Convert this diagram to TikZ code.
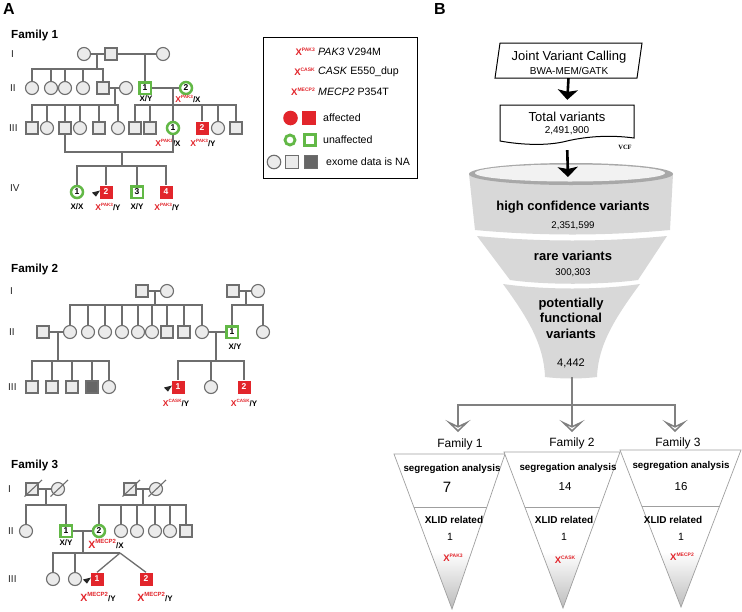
\documentclass[tikz,border=0pt]{standalone}
\usepackage{fontspec}
\setmainfont{Liberation Sans}
\newfontfamily\vcffont{Liberation Serif}
\usetikzlibrary{arrows.meta,calc}
\definecolor{pgray}{HTML}{6E6E6E}
\definecolor{pfill}{HTML}{EBEBEB}
\definecolor{pgreen}{HTML}{62B846}
\definecolor{pred}{HTML}{E2252B}
\definecolor{pdark}{HTML}{666666}
\definecolor{fgray}{HTML}{D8D8D8}
\definecolor{rimgray}{HTML}{A8A8A8}
\definecolor{lgray}{HTML}{808080}
\newcommand{\fsz}[1]{\fontsize{#1}{#1}\selectfont}
\newcommand{\xm}[3]{{\color{pred}\fontsize{#1}{#1}\selectfont X\raisebox{.4em}{\fontsize{#2}{#2}\selectfont #3}}}
\tikzset{
  sq/.style={rectangle,draw=pgray,fill=pfill,line width=1.1pt,minimum size=12pt,inner sep=0pt},
  ci/.style={circle,draw=pgray,fill=pfill,line width=1.1pt,minimum size=13pt,inner sep=0pt},
  usq/.style={rectangle,draw=pgreen,fill=white,line width=2.5pt,minimum size=11.5pt,inner sep=0pt,font=\bfseries\fsz{8.5}},
  uci/.style={circle,draw=pgreen,fill=white,line width=2.5pt,minimum size=12pt,inner sep=0pt,font=\bfseries\fsz{8.5}},
  asq/.style={rectangle,fill=pred,minimum size=13pt,inner sep=0pt,text=white,font=\bfseries\fsz{8.5}},
  dsq/.style={rectangle,draw=pgray,fill=pdark,line width=1.1pt,minimum size=12pt,inner sep=0pt},
  pl/.style={draw=pgray,line width=1.3pt},
  dec/.style={draw=pgray,line width=1.1pt},
  gen/.style={anchor=west,inner sep=0pt,font=\fsz{10},text=black!85},
  ftitle/.style={anchor=west,inner sep=0pt,font=\bfseries\fsz{11.7}},
  lab/.style={inner sep=0pt,font=\bfseries\fsz{8}},
  proband/.style={fill=black!85},
  panel/.style={inner sep=0pt,font=\bfseries\fsz{16}},
  legtxt/.style={anchor=west,inner sep=0pt,font=\fsz{10.6}},
  bigarrow/.style={line width=2.6pt,-{Stealth[length=10pt,width=20pt,inset=2pt]}},
  fb/.style={inner sep=0pt,font=\bfseries\fsz{13}},
  fn/.style={inner sep=0pt,font=\fsz{9.7}},
  gline/.style={draw=lgray,line width=2pt},
  garrow/.style={draw=lgray,line width=1.5pt,-{Stealth[open,fill=white,length=12pt,width=25pt,inset=6pt]}},
  tri/.style={draw=gray!75,line width=0.7pt},
  famb/.style={inner sep=0pt,font=\fsz{12}},
  segb/.style={inner sep=0pt,font=\bfseries\fsz{9.8}},
  xlid/.style={inner sep=0pt,font=\bfseries\fsz{10}},
  cnt/.style={inner sep=0pt,font=\fsz{11.5}},
}
\begin{document}
\begin{tikzpicture}[x=1pt,y=-1pt]
\useasboundingbox (0,0) rectangle (742,611);
\fill[white] (0,0) rectangle (742,611);

\node[panel] (pA) at (9,9) {A};
\node[panel] (pB) at (440,9) {B};

%%%%%%%%%%%%%%%% FAMILY 1
\node[ftitle] (f1t) at (11,35) {Family 1};
\node[gen] (f1g1) at (11,54) {I};
\node[gen] (f1g2) at (10,88) {II};
\node[gen] (f1g3) at (9,128) {III};
\node[gen] (f1g4) at (10,188) {IV};
% gen I
\node[ci] (f1a) at (84,54) {};
\node[sq] (f1b) at (111,54) {};
\node[ci] (f1c) at (163,54) {};
\draw[pl] (f1a) -- (f1b);
\draw[pl] (f1b) -- (f1c);
\coordinate (f1m1) at (97,54);
\coordinate (f1j1) at (97,69);
\coordinate (f1m2) at (145,54);
% gen II
\node[ci] (f1IIa) at (32,88) {};
\node[ci] (f1IIb) at (51,88) {};
\node[ci] (f1IIc) at (65,88) {};
\node[ci] (f1IId) at (83,88) {};
\node[sq] (f1IIe) at (103,88) {};
\node[ci] (f1IIw) at (126,88) {};
\node[usq] (f1II1) at (145,88) {1};
\node[uci] (f1II2) at (186,88) {2};
\draw[pl] (f1m1) -- (f1j1);
\foreach \c in {f1IIa,f1IIb,f1IIc,f1IId,f1IIe} \draw[pl] (f1j1) -| (\c.north);
\draw[pl] (f1m2) -- (f1II1.north);
\draw[pl] (f1IIe) -- (f1IIw);
\draw[pl] (f1II1) -- (f1II2);
\coordinate (f1m3) at (115,88);
\coordinate (f1j3) at (115,105);
\coordinate (f1m4) at (173,88);
\coordinate (f1j4) at (173,105);
\draw[pl] (f1m3) -- (f1j3);
\draw[pl] (f1m4) -- (f1j4);
\node[lab] (f1l1) at (146,99) {X/Y};
\node[lab] (f1l2) at (188,99) {\xm{8.5}{4.6}{PAK3}/X};
% gen III
\node[sq] (f1IIIa) at (32,128) {};
\node[ci] (f1IIIb) at (47,128) {};
\node[sq] (f1IIIc) at (65,128) {};
\node[ci] (f1IIId) at (80,128) {};
\node[sq] (f1IIIe) at (99,128) {};
\node[ci] (f1IIIf) at (118,128) {};
\node[sq] (f1IIIg) at (135,128) {};
\node[sq] (f1IIIh) at (150,128) {};
\node[uci] (f1III1) at (173,128) {1};
\node[asq] (f1III2) at (202,128) {2};
\node[ci] (f1IIIi) at (218,128) {};
\node[sq] (f1IIIj) at (236,128) {};
\foreach \c in {f1IIIa,f1IIIb,f1IIIc,f1IIId,f1IIIe,f1IIIf} \draw[pl] (f1j3) -| (\c.north);
\foreach \c in {f1IIIg,f1IIIh,f1III1,f1III2,f1IIIi,f1IIIj} \draw[pl] (f1j4) -| (\c.north);
\node[lab] (f1l3) at (168,143) {\xm{8.5}{4.6}{PAK3}/X};
\node[lab] (f1l4) at (203,143) {\xm{8.5}{4.6}{PAK3}/Y};
\coordinate (f1u) at (122,152);
\coordinate (f1j5) at (122,166);
\draw[pl] (f1IIIc.south) |- (f1u) -| (f1III1.south);
\draw[pl] (f1u) -- (f1j5);
% gen IV
\node[uci] (f1IV1) at (77,192) {1};
\node[asq] (f1IV2) at (106,192) {2};
\node[usq] (f1IV3) at (137,192) {3};
\node[asq] (f1IV4) at (166,192) {4};
\foreach \c in {f1IV1,f1IV2,f1IV3,f1IV4} \draw[pl] (f1j5) -| (\c.north);
\fill[proband] ($(f1IV2)+(-6,-1.5)$) -- ($(f1IV2)+(-14,0.5)$) -- ($(f1IV2)+(-10,4.5)$) -- cycle;
\node[lab] (f1l5) at (77,207) {X/X};
\node[lab] (f1l6) at (108,207) {\xm{8.5}{4.6}{PAK3}/Y};
\node[lab] (f1l7) at (137,207) {X/Y};
\node[lab] (f1l8) at (167,207) {\xm{8.5}{4.6}{PAK3}/Y};

%%%%%%%%%%%%%%%% FAMILY 2
\node[ftitle] (f2t) at (11,269) {Family 2};
\node[gen] (f2g1) at (10,291) {I};
\node[gen] (f2g2) at (9,332) {II};
\node[gen] (f2g3) at (8,387) {III};
\node[sq] (f2a) at (142,291) {};
\node[ci] (f2b) at (167,291) {};
\node[sq] (f2c) at (233,291) {};
\node[ci] (f2d) at (258,291) {};
\draw[pl] (f2a) -- (f2b);
\draw[pl] (f2c) -- (f2d);
\coordinate (f2m1) at (155,291);
\coordinate (f2j1) at (155,305);
\coordinate (f2m2) at (246,291);
\coordinate (f2j2) at (246,305);
\draw[pl] (f2m1) -- (f2j1);
\draw[pl] (f2m2) -- (f2j2);
\node[sq] (f2IIs) at (43,332) {};
\node[ci] (f2IIa) at (70,332) {};
\node[ci] (f2IIb) at (88,332) {};
\node[ci] (f2IIc) at (105,332) {};
\node[ci] (f2IId) at (122,332) {};
\node[ci] (f2IIe) at (138,332) {};
\node[ci] (f2IIf) at (152,332) {};
\node[sq] (f2IIg) at (167,332) {};
\node[sq] (f2IIh) at (184,332) {};
\node[ci] (f2IIw) at (202,332) {};
\node[usq] (f2II1) at (232,332) {1};
\node[ci] (f2IIi) at (263,332) {};
\foreach \c in {f2IIa,f2IIb,f2IIc,f2IId,f2IIe,f2IIf,f2IIg,f2IIh,f2IIw} \draw[pl] (f2j1) -| (\c.north);
\foreach \c in {f2II1,f2IIi} \draw[pl] (f2j2) -| (\c.north);
\draw[pl] (f2IIs) -- (f2IIa);
\draw[pl] (f2IIw) -- (f2II1);
\coordinate (f2m3) at (58,332);
\coordinate (f2j3) at (58,361);
\coordinate (f2m4) at (216,332);
\coordinate (f2j4) at (216,361);
\draw[pl] (f2m3) -- (f2j3);
\draw[pl] (f2m4) -- (f2j4);
\node[lab] (f2l1) at (235,347) {X/Y};
\node[sq] (f2IIIa) at (32,387) {};
\node[sq] (f2IIIb) at (52,387) {};
\node[sq] (f2IIIc) at (72,387) {};
\node[dsq] (f2IIId) at (92,387) {};
\node[ci] (f2IIIe) at (109,387) {};
\node[asq] (f2III1) at (178,387) {1};
\node[ci] (f2IIIf) at (211,387) {};
\node[asq] (f2III2) at (244,387) {2};
\foreach \c in {f2IIIa,f2IIIb,f2IIIc,f2IIId,f2IIIe} \draw[pl] (f2j3) -| (\c.north);
\foreach \c in {f2III1,f2IIIf,f2III2} \draw[pl] (f2j4) -| (\c.north);
\fill[proband] ($(f2III1)+(-6,-1.5)$) -- ($(f2III1)+(-14,0.5)$) -- ($(f2III1)+(-10,4.5)$) -- cycle;
\node[lab] (f2l2) at (176,403) {\xm{8.5}{4.6}{CASK}/Y};
\node[lab] (f2l3) at (244,403) {\xm{8.5}{4.6}{CASK}/Y};

%%%%%%%%%%%%%%%% FAMILY 3
\node[ftitle] (f3t) at (11,465) {Family 3};
\node[gen] (f3g1) at (8,489) {I};
\node[gen] (f3g2) at (8,531) {II};
\node[gen] (f3g3) at (8,579) {III};
\node[sq] (f3a) at (32,489) {};
\node[ci] (f3b) at (58,489) {};
\node[sq] (f3c) at (130,489) {};
\node[ci] (f3d) at (156,489) {};
\foreach \c in {f3a,f3b,f3c,f3d} \draw[dec] ($(\c)+(-7.5,7.5)$) -- ($(\c)+(10,-9)$);
\draw[pl] (f3a) -- (f3b);
\draw[pl] (f3c) -- (f3d);
\coordinate (f3m1) at (46,489);
\coordinate (f3j1) at (46,505);
\coordinate (f3m2) at (143,489);
\coordinate (f3j2) at (143,505);
\draw[pl] (f3m1) -- (f3j1);
\draw[pl] (f3m2) -- (f3j2);
\node[ci] (f3IIa) at (26,531) {};
\node[usq] (f3II1) at (66,531) {1};
\node[uci] (f3II2) at (99,531) {2};
\node[ci] (f3IIb) at (121,531) {};
\node[ci] (f3IIc) at (137,531) {};
\node[ci] (f3IId) at (155,531) {};
\node[ci] (f3IIe) at (170,531) {};
\node[sq] (f3IIf) at (186,531) {};
\foreach \c in {f3IIa,f3II1} \draw[pl] (f3j1) -| (\c.north);
\foreach \c in {f3II2,f3IIb,f3IIc,f3IId,f3IIe,f3IIf} \draw[pl] (f3j2) -| (\c.north);
\draw[pl] (f3II1) -- (f3II2);
\coordinate (f3m3) at (83,531);
\coordinate (f3j3) at (83,553);
\coordinate (f3tw) at (120,553);
\draw[pl] (f3m3) -- (f3j3);
\node[lab] (f3l1) at (66,543) {X/Y};
\node[lab] (f3l2) at (106,544) {\xm{10.5}{6}{MECP2}/X};
\node[ci] (f3IIIa) at (53,579) {};
\node[ci] (f3IIIb) at (75,579) {};
\node[asq] (f3III1) at (97,579) {1};
\node[asq] (f3III2) at (146,579) {2};
\foreach \c in {f3IIIa,f3IIIb} \draw[pl] (f3j3) -| (\c.north);
\draw[pl] (f3j3) -- (f3tw);
\draw[pl] (f3tw) -- (f3III1.north);
\draw[pl] (f3tw) -- (f3III2.north);
\fill[proband] ($(f3III1)+(-6,-1.5)$) -- ($(f3III1)+(-14,0.5)$) -- ($(f3III1)+(-10,4.5)$) -- cycle;
\node[lab] (f3l3) at (98,597) {\xm{10.5}{6}{MECP2}/Y};
\node[lab] (f3l4) at (155,597) {\xm{10.5}{6}{MECP2}/Y};

%%%%%%%%%%%%%%%% LEGEND
\node[draw,line width=0.8pt,minimum width=154pt,minimum height=141pt,inner sep=0pt] (legend) at (340,107.5) {};
\node[anchor=east,inner sep=0pt,font=\bfseries] (lx1) at (315,52) {\xm{9.5}{5}{PAK3}};
\node[legtxt] (ld1) at (318,52) {\textit{PAK3} V294M};
\node[anchor=east,inner sep=0pt,font=\bfseries] (lx2) at (315,72) {\xm{9.5}{5}{CASK}};
\node[legtxt] (ld2) at (318,72) {\textit{CASK} E550\_dup};
\node[anchor=east,inner sep=0pt,font=\bfseries] (lx3) at (315,92) {\xm{9.5}{5}{MECP2}};
\node[legtxt] (ld3) at (318,92) {\textit{MECP2} P354T};
\node[circle,fill=pred,minimum size=14.6pt,inner sep=0pt] (lac) at (290.5,118) {};
\node[rectangle,fill=pred,minimum size=13.5pt,inner sep=0pt] (las) at (309,118) {};
\node[legtxt] (ld4) at (323,118) {affected};
\node[circle,draw=pgreen,fill=white,line width=2.8pt,minimum size=10pt,inner sep=0pt] (luc) at (290,140) {};
\node[rectangle,draw=pgreen,fill=white,line width=2.8pt,minimum size=11.5pt,inner sep=0pt] (lus) at (310,140) {};
\node[legtxt] (ld5) at (323,140) {unaffected};
\node[ci,minimum size=13.5pt] (lnc) at (274,162) {};
\node[sq,minimum size=12.5pt] (lns) at (292,162) {};
\node[dsq,minimum size=12.5pt] (lnd) at (311,162) {};
\node[legtxt] (ld6) at (326,162) {exome data is NA};

%%%%%%%%%%%%%%%% PANEL B
\node[minimum width=142pt,minimum height=35pt,inner sep=0pt] (jvc) at (568.5,60.5) {};
\draw[line width=1pt] (500,43) -- (642,43) -- (637,78) -- (495,78) -- cycle;
\node[inner sep=0pt,font=\fsz{13}] (jvc1) at (569,57) {Joint Variant Calling};
\node[inner sep=0pt,font=\fsz{10}] (jvc2) at (569,71) {BWA-MEM/GATK};

\node[minimum width=134pt,minimum height=36pt,inner sep=0pt] (tv) at (567,123) {};
\draw[line width=1pt,fill=white] (500,105) -- (634,105) -- (634,138) .. controls (612,135) and (588,136) .. (567,141) .. controls (548,146) and (522,145) .. (500,141) -- cycle;
\node[inner sep=0pt,font=\fsz{13}] (tv1) at (567,117) {Total variants};
\node[inner sep=0pt,font=\fsz{10}] (tv2) at (567,131) {2,491,900};
\node[inner sep=0pt,font=\vcffont\bfseries\fsz{6.5}] (vcf) at (625,147) {VCF};

\draw[bigarrow,shorten >=5pt] (jvc.south) -- (tv.north);

% funnel
\fill[fgray] (469,174) -- (475,230) .. controls (540,236) and (605,236) .. (670,230) -- (673,174) -- cycle;
\fill[fgray] (477,236) .. controls (540,242) and (605,242) .. (667,236) -- (638,280) .. controls (600,285) and (545,285) .. (510,280) -- cycle;
\fill[fgray] (503,284) .. controls (545,290) and (600,290) .. (640,284) .. controls (615,318) and (598,345) .. (597,377) .. controls (580,379) and (562,379) .. (545,377) .. controls (544,345) and (528,318) .. (503,284) -- cycle;
\fill[rimgray] (571,174) ellipse [x radius=102, y radius=11];
\fill[gray!10] (570,173) ellipse [x radius=95, y radius=8.5];
\coordinate (funtop) at (568,177);
\draw[bigarrow,shorten <=9pt] (tv.south) -- (funtop);

\node[fb] (hc) at (573,207) {high confidence variants};
\node[fn] (hcn) at (573,226) {2,351,599};
\node[fb] (rv) at (573,256) {rare variants};
\node[fn] (rvn) at (573,273) {300,303};
\node[fb,align=center,font=\bfseries\fontsize{13}{15.5}\selectfont] (pf) at (571,318) {potentially\\functional\\variants};
\node[inner sep=0pt,font=\fsz{11}] (pfn) at (571,363) {4,442};

% split
\coordinate (spout) at (572,377);
\coordinate (hj) at (572,405);
\coordinate (a1) at (458,432);
\coordinate (a2) at (572,432);
\coordinate (a3) at (675,432);
\draw[gline] (spout) -- (hj);
\draw[gline] (458,405) -- (675,405);
\draw[garrow] (hj) -| (a1);
\draw[garrow] (hj) -- (a2);
\draw[garrow] (hj) -| (a3);

\node[famb] (bf1) at (460,444) {Family 1};
\node[famb] (bf2) at (572,443) {Family 2};
\node[famb] (bf3) at (678,443) {Family 3};

% triangles
\coordinate (t1a) at (394,454); \coordinate (t1b) at (505,454); \coordinate (t1c) at (452,609);
\coordinate (t2a) at (504,452); \coordinate (t2b) at (620,452); \coordinate (t2c) at (563,608);
\coordinate (t3a) at (620,450); \coordinate (t3b) at (741,450); \coordinate (t3c) at (681,607);
\foreach \t/\f in {t1/0.342,t2/0.353,t3/0.357}{
  \fill[white] (\t a) -- (\t b) -- (\t c) -- cycle;
  \begin{scope}
    \clip (\t a) -- (\t b) -- (\t c) -- cycle;
    \shade[top color=white,bottom color=gray!55] (380,552) rectangle (742,611);
  \end{scope}
  \draw[tri] (\t a) -- (\t b) -- (\t c) -- cycle;
  \draw[tri] ($(\t a)!\f!(\t c)$) -- ($(\t b)!\f!(\t c)$);
}
\node[segb] (t1s) at (452,469) {segregation analysis};
\node[segb] (t2s) at (568,468) {segregation analysis};
\node[segb] (t3s) at (681,466) {segregation analysis};
\node[inner sep=0pt,font=\fsz{15}] (t1n) at (447,487) {7};
\node[cnt] (t2n) at (565,487) {14};
\node[cnt] (t3n) at (681,487) {16};
\node[xlid] (t1r) at (454,520) {XLID related};
\node[xlid] (t2r) at (564,520) {XLID related};
\node[xlid] (t3r) at (673,520) {XLID related};
\node[cnt,font=\fsz{10.5}] (t1o) at (450,537) {1};
\node[cnt,font=\fsz{10.5}] (t2o) at (564,537) {1};
\node[cnt,font=\fsz{10.5}] (t3o) at (681,537) {1};
\node[inner sep=0pt,font=\bfseries] (t1g) at (453,558) {\xm{9.5}{5}{PAK3}};
\node[inner sep=0pt,font=\bfseries] (t2g) at (565,560) {\xm{9.5}{5}{CASK}};
\node[inner sep=0pt,font=\bfseries] (t3g) at (682,557) {\xm{9.5}{5}{MECP2}};
\end{tikzpicture}
\end{document}
